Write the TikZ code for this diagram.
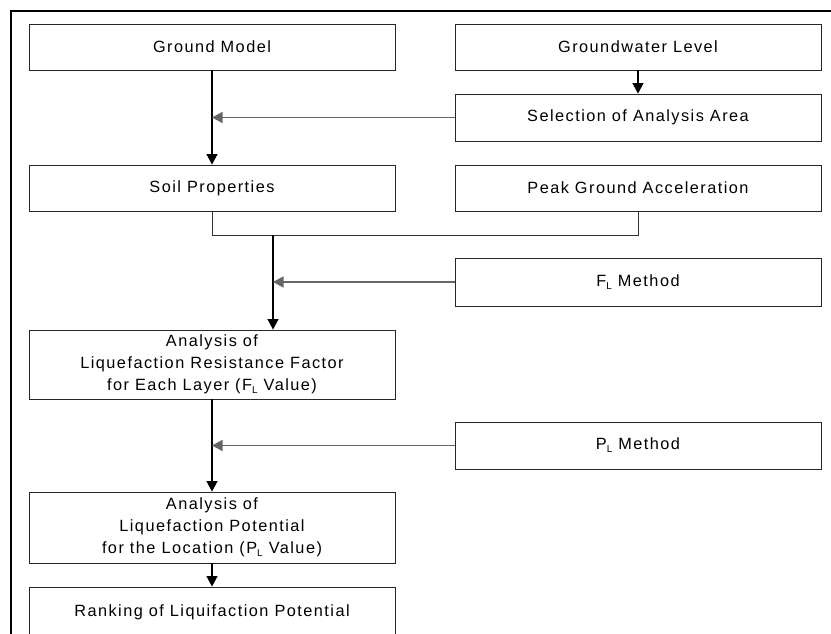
\documentclass[tikz,border=0pt]{standalone}
\usepackage{fontspec}
\setmainfont{Liberation Sans}
\newfontfamily\labfont[LetterSpace=9]{Liberation Sans}
\usetikzlibrary{arrows.meta,calc}
\newcommand{\subL}{\raisebox{-3pt}{\fontsize{10}{10}\selectfont L}}
\begin{document}
\begin{tikzpicture}[x=1pt,y=-1pt,
  box/.style={draw=black!85, line width=0.9pt, rectangle, minimum width=366pt, inner sep=0pt,
    align=center, font=\labfont\fontsize{16.3}{22}\selectfont},
  conn/.style={black, line width=1.1pt, -{Triangle[length=10.5pt,width=11pt]}},
  feed/.style={black!60, line width=1.2pt, -{Triangle[length=10.5pt,width=11pt]}},
  plain/.style={black!80, line width=1pt}]
\useasboundingbox (0,0) rectangle (831,633);
\clip (0,0) rectangle (831,633);
\fill[white] (0,0) rectangle (831,633);
% outer frame (partially visible)
\draw[black, line width=2pt] (11,640) -- (11,11) -- (840,11);
% boxes
\node[box, minimum height=46pt] (gm) at (212,47) {Ground Model};
\node[box, minimum height=46pt] (gw) at (638,47) {Groundwater Level};
\node[box, minimum height=47pt] (sel) at (638,117.5) {Selection of Analysis Area};
\node[box, minimum height=46pt] (soil) at (212,188) {Soil Properties};
\node[box, minimum height=46pt] (peak) at (638,188) {Peak Ground Acceleration};
\node[box, minimum height=48pt] (flm) at (638,282) {F\subL\ Method};
\node[box, minimum height=69pt] (afl) at (212,364.5) {Analysis of\\Liquefaction Resistance Factor\\for Each Layer (F\subL\ Value)};
\node[box, minimum height=47pt] (plm) at (638,445.5) {P\subL\ Method};
\node[box, minimum height=71pt] (apl) at (212,527.5) {Analysis of\\Liquefaction Potential\\for the Location (P\subL\ Value)};
\node[box, minimum height=50pt] (rank) at (212,612) {Ranking of Liquifaction Potential};
% connectors
\draw[conn] (gm.south) -- (soil.north);
\draw[conn] (gw.south) -- (sel.north);
\draw[feed] (sel.west) -- (sel.west -| gm.south);
\coordinate (j) at ($(soil.south)+(0,24)$);
\coordinate (m) at (273,235);
\draw[plain] (soil.south) -- (j) -| (peak.south);
\draw[conn] (m) -- (m |- afl.north);
\draw[feed] (flm.west) -- (flm.west -| m);
\draw[conn] (afl.south) -- (apl.north);
\draw[feed] (plm.west) -- (plm.west -| afl.south);
\draw[conn] (apl.south) -- (rank.north);
\end{tikzpicture}
\end{document}
